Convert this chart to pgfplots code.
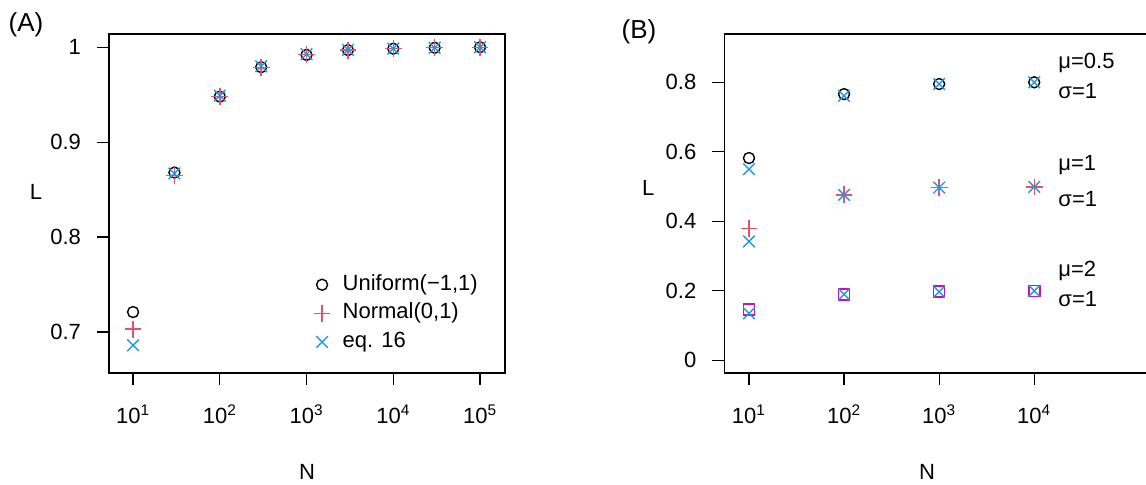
\documentclass[border=0pt]{standalone}
\usepackage{pgfplots}
\pgfplotsset{compat=1.18}
\usepackage{fontspec}
\setmainfont{Liberation Sans}
\definecolor{rred}{HTML}{DF536B}
\definecolor{rblue}{HTML}{2297E6}
\definecolor{rmag}{HTML}{CD0BBC}
\pgfplotsset{
  every axis/.append style={
    scale only axis, height=169.5pt,
    axis line style={black, line width=0.6pt},
    tick style={black, line width=0.6pt},
    tick align=outside, major tick length=6pt,
    xtick pos=left, ytick pos=left,
    ticklabel style={font=\fontsize{11}{13}\selectfont},
    xticklabel style={yshift=-6.5pt},
    yticklabel style={xshift=-4.5pt},
  },
  lgA/.style={legend image code/.code={\path (0cm,0cm) (0.7cm,0cm);
    \draw[black, line width=0.7pt, mark size=2.75pt] plot[only marks, mark=o] coordinates {(0.35cm,0cm)};}},
  lgB/.style={legend image code/.code={\path (0cm,0cm) (0.7cm,0cm);
    \draw[rred, line width=0.7pt, mark size=4.2pt] plot[only marks, mark=+] coordinates {(0.35cm,0cm)};}},
  lgC/.style={legend image code/.code={\path (0cm,0cm) (0.7cm,0cm);
    \draw[rblue, line width=0.7pt, mark size=4.1pt] plot[only marks, mark=x] coordinates {(0.35cm,0cm)};}},
}
\begin{document}
\begin{tikzpicture}
\path[use as bounding box, clip] (0,0) rectangle (573pt,242.5pt);
% panel A
\begin{semilogxaxis}[at={(54.5pt,56pt)}, anchor=south west, width=198pt,
  xminorticks=false,
  xmin=5.28, xmax=194000, ymin=0.6568, ymax=1.014,
  xtick={10,100,1000,10000,100000},
  xticklabels={10\textsuperscript{1},10\textsuperscript{2},10\textsuperscript{3},10\textsuperscript{4},10\textsuperscript{5}},
  ytick={0.7,0.8,0.9,1}, yticklabels={0.7,0.8,0.9,1},
  xlabel={N}, ylabel={L},
  xlabel style={font=\fontsize{11}{13}\selectfont, at={(rel axis cs:0.5,0)}, anchor=center, yshift=-49.5pt},
  ylabel style={font=\fontsize{11}{13}\selectfont, rotate=-90, at={(rel axis cs:0,0.534)}, anchor=center, xshift=-36.5pt},
  legend cell align=left,
  legend style={draw=none, fill=none, inner sep=0pt, row sep=3.8pt,
    at={(rel axis cs:0.485,0.176)}, anchor=west,
    nodes={inner sep=0pt, text height=8pt, text depth=2.5pt},
    font=\fontsize{11}{13}\selectfont},
]
\addplot[only marks, lgA, line width=0.7pt, black, mark=o, mark size=2.75pt] coordinates {
(10,0.721)(30,0.868)(100,0.948)(300,0.979)(1000,0.992)(3000,0.997)(10000,0.9985)(30000,0.9995)(100000,1.0)};
\addlegendentry{Uniform(−1,1)}
\addplot[only marks, lgB, line width=0.7pt, rred, mark=+, mark size=4.2pt] coordinates {
(10,0.703)(30,0.865)(100,0.948)(300,0.979)(1000,0.9925)(3000,0.997)(10000,0.9985)(30000,0.9995)(100000,1.0)};
\addlegendentry{Normal(0,1)}
\addplot[only marks, lgC, line width=0.7pt, rblue, mark=x, mark size=4.1pt] coordinates {
(10,0.686)(30,0.867)(100,0.949)(300,0.980)(1000,0.9927)(3000,0.9972)(10000,0.9986)(30000,0.9995)(100000,1.0)};
\addlegendentry{eq. 16}
\end{semilogxaxis}
\node[font=\fontsize{13}{15}\selectfont] at (13pt,230pt) {(A)};
% panel B
\begin{semilogxaxis}[at={(362.15pt,56pt)}, anchor=south west, width=216.75pt,
  xminorticks=false,
  xmin=5.5, xmax=199500, ymin=-0.0365, ymax=0.939,
  xtick={10,100,1000,10000},
  xticklabels={10\textsuperscript{1},10\textsuperscript{2},10\textsuperscript{3},10\textsuperscript{4}},
  ytick={0,0.2,0.4,0.6,0.8}, yticklabels={0,0.2,0.4,0.6,0.8},
  xlabel={N}, ylabel={L},
  xlabel style={font=\fontsize{11}{13}\selectfont, at={(rel axis cs:0.468,0)}, anchor=center, yshift=-49.5pt},
  ylabel style={font=\fontsize{11}{13}\selectfont, rotate=-90, at={(rel axis cs:0,0.546)}, anchor=center, xshift=-38pt},
]
% mu=0.5
\addplot[only marks, line width=0.7pt, black, mark=o, mark size=2.75pt] coordinates {(10,0.582)(100,0.766)(1000,0.795)(10000,0.800)};
% mu=1
\addplot[only marks, line width=0.7pt, rred, mark=+, mark size=4.2pt] coordinates {(10,0.380)(100,0.476)(1000,0.497)(10000,0.499)};
% mu=2
\addplot[only marks, line width=0.8pt, rmag, mark=square, mark size=2.75pt] coordinates {(10,0.147)(100,0.190)(1000,0.1975)(10000,0.200)};
% eq. 16
\addplot[only marks, line width=0.7pt, rblue, mark=x, mark size=4.1pt] coordinates {(10,0.550)(100,0.761)(1000,0.795)(10000,0.800)};
\addplot[only marks, line width=0.7pt, rblue, mark=x, mark size=4.1pt] coordinates {(10,0.342)(100,0.476)(1000,0.497)(10000,0.499)};
\addplot[only marks, line width=0.7pt, rblue, mark=x, mark size=4.1pt] coordinates {(10,0.135)(100,0.190)(1000,0.1975)(10000,0.200)};
\node[anchor=base west, inner sep=0pt, font=\fontsize{11}{13}\selectfont] at (axis cs:17800,0.841) {μ=0.5};
\node[anchor=base west, inner sep=0pt, font=\fontsize{11}{13}\selectfont] at (axis cs:17800,0.753) {σ=1};
\node[anchor=base west, inner sep=0pt, font=\fontsize{11}{13}\selectfont] at (axis cs:17800,0.545) {μ=1};
\node[anchor=base west, inner sep=0pt, font=\fontsize{11}{13}\selectfont] at (axis cs:17800,0.444) {σ=1};
\node[anchor=base west, inner sep=0pt, font=\fontsize{11}{13}\selectfont] at (axis cs:17800,0.240) {μ=2};
\node[anchor=base west, inner sep=0pt, font=\fontsize{11}{13}\selectfont] at (axis cs:17800,0.156) {σ=1};
\end{semilogxaxis}
\node[font=\fontsize{13}{15}\selectfont] at (319.5pt,226.5pt) {(B)};
\end{tikzpicture}
\end{document}
